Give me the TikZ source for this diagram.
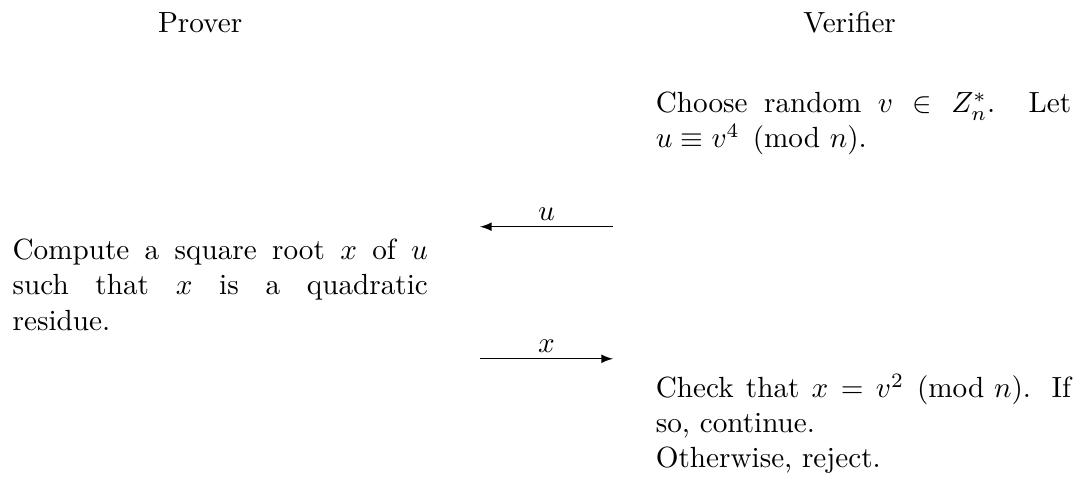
\documentclass[tikz,border=0pt]{standalone}
\usepackage{amsmath}
\usepackage{tikz}

\begin{document}
\begin{tikzpicture}[>=latex,
    party/.style={anchor=base},
    stepbox/.style={anchor=base west, inner sep=0pt, text width=5cm, align=justify},
    msg/.style={above, inner sep=2pt}]
    \useasboundingbox (0,0) rectangle (13.04,5.80);
    % Parties
    \node[party] (prover) at (2.41,5.41) {Prover};
    \node[party] (verifier) at (10.23,5.41) {Verifier};
    % Verifier picks u
    \node[stepbox] (choose) at (7.89,4.44) {Choose random $v \in Z_n^*$. Let\linebreak $u \equiv v^4 \pmod{n}$.};
    % Prover answers
    \node[stepbox] (compute) at (0.145,2.67) {Compute a square root $x$ of $u$\linebreak such that $x$ is a quadratic residue.};
    % Verifier checks
    \node[stepbox] (check) at (7.89,1.01) {Check that $x = v^2 \pmod{n}$. If so, continue.\par Otherwise, reject.};
    % Messages
    \coordinate (uR) at (7.38,3.07);
    \coordinate (uL) at (5.78,3.07);
    \draw[->] (uR) -- node[msg] {$u$} (uL);
    \coordinate (xL) at (5.78,1.48);
    \coordinate (xR) at (7.38,1.48);
    \draw[->] (xL) -- node[msg] {$x$} (xR);
\end{tikzpicture}
\end{document}
